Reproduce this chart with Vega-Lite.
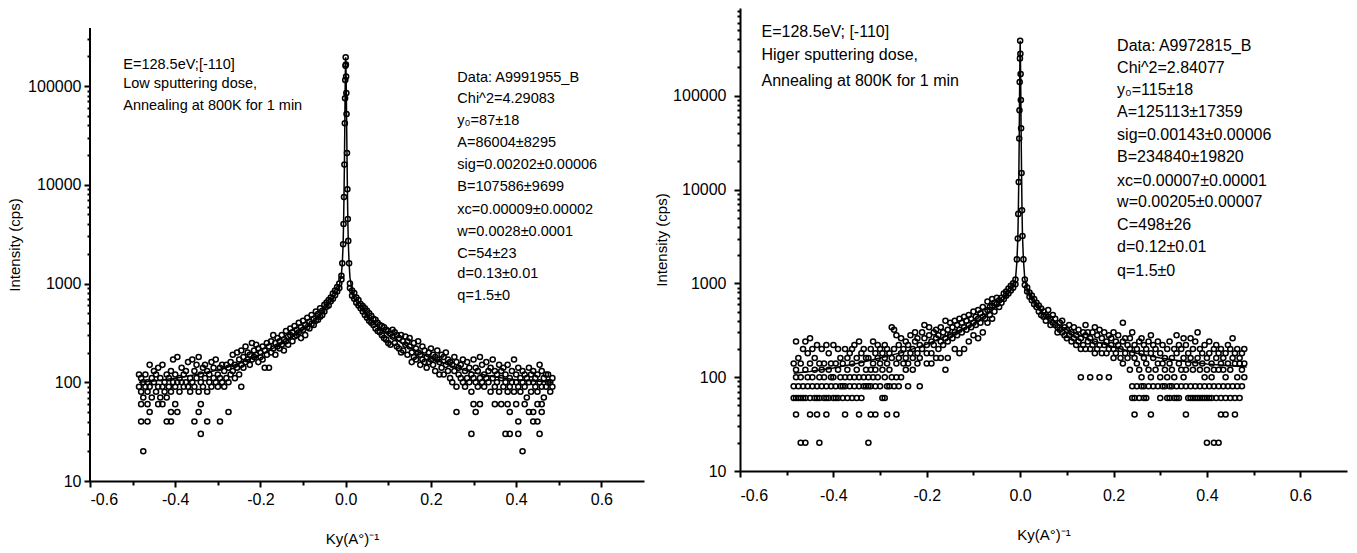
{
"$schema":"https://vega.github.io/schema/vega-lite/v6.json",
"padding":{"left":7,"top":8,"right":5,"bottom":3},
"spacing":10,
"config":{"view":{"stroke":null},"font":"Liberation Sans","axis":{"domainColor":"#000","domainWidth":2,"tickColor":"#000","tickWidth":2,"labelColor":"#000","titleColor":"#000","labelFontSize":16,"titleFontSize":15,"titleFontWeight":"normal","grid":false,"labelFont":"Liberation Sans","titleFont":"Liberation Sans"}},
"datasets":{
"L":[
{"x":-0.485,"y":90},{"x":-0.485,"y":120},{"x":-0.48,"y":80},{"x":-0.48,"y":110},{"x":-0.48,"y":60},{"x":-0.48,"y":40},{"x":-0.475,"y":100},{"x":-0.475,"y":70},{"x":-0.475,"y":20},{"x":-0.47,"y":120},{"x":-0.47,"y":90},{"x":-0.465,"y":80},{"x":-0.465,"y":100},{"x":-0.465,"y":40},{"x":-0.465,"y":60},{"x":-0.46,"y":150},{"x":-0.46,"y":90},{"x":-0.46,"y":50},{"x":-0.455,"y":70},{"x":-0.455,"y":110},{"x":-0.45,"y":100},{"x":-0.45,"y":130},{"x":-0.445,"y":80},{"x":-0.445,"y":120},{"x":-0.44,"y":90},{"x":-0.44,"y":140},{"x":-0.44,"y":60},{"x":-0.435,"y":110},{"x":-0.435,"y":70},{"x":-0.43,"y":150},{"x":-0.43,"y":90},{"x":-0.43,"y":60},{"x":-0.425,"y":100},{"x":-0.425,"y":80},{"x":-0.42,"y":120},{"x":-0.42,"y":70},{"x":-0.42,"y":40},{"x":-0.415,"y":90},{"x":-0.415,"y":110},{"x":-0.41,"y":80},{"x":-0.41,"y":130},{"x":-0.41,"y":40},{"x":-0.41,"y":50},{"x":-0.405,"y":100},{"x":-0.405,"y":170},{"x":-0.4,"y":120},{"x":-0.4,"y":90},{"x":-0.4,"y":60},{"x":-0.395,"y":180},{"x":-0.395,"y":100},{"x":-0.395,"y":50},{"x":-0.39,"y":110},{"x":-0.39,"y":80},{"x":-0.385,"y":140},{"x":-0.385,"y":100},{"x":-0.38,"y":120},{"x":-0.38,"y":90},{"x":-0.375,"y":100},{"x":-0.375,"y":130},{"x":-0.37,"y":160},{"x":-0.37,"y":90},{"x":-0.365,"y":110},{"x":-0.365,"y":80},{"x":-0.36,"y":170},{"x":-0.36,"y":100},{"x":-0.355,"y":130},{"x":-0.355,"y":90},{"x":-0.355,"y":40},{"x":-0.35,"y":110},{"x":-0.35,"y":150},{"x":-0.345,"y":180},{"x":-0.345,"y":80},{"x":-0.345,"y":50},{"x":-0.34,"y":120},{"x":-0.34,"y":100},{"x":-0.34,"y":30},{"x":-0.34,"y":60},{"x":-0.335,"y":90},{"x":-0.335,"y":140},{"x":-0.33,"y":110},{"x":-0.33,"y":150},{"x":-0.325,"y":130},{"x":-0.325,"y":80},{"x":-0.325,"y":40},{"x":-0.32,"y":100},{"x":-0.32,"y":120},{"x":-0.315,"y":160},{"x":-0.315,"y":90},{"x":-0.31,"y":110},{"x":-0.31,"y":140},{"x":-0.305,"y":170},{"x":-0.305,"y":100},{"x":-0.3,"y":120},{"x":-0.3,"y":90},{"x":-0.295,"y":140},{"x":-0.295,"y":110},{"x":-0.295,"y":40},{"x":-0.29,"y":150},{"x":-0.29,"y":100},{"x":-0.285,"y":130},{"x":-0.285,"y":90},{"x":-0.28,"y":110},{"x":-0.28,"y":150},{"x":-0.275,"y":140},{"x":-0.275,"y":100},{"x":-0.275,"y":50},{"x":-0.27,"y":120},{"x":-0.27,"y":160},{"x":-0.265,"y":190},{"x":-0.265,"y":130},{"x":-0.26,"y":150},{"x":-0.26,"y":110},{"x":-0.255,"y":200},{"x":-0.255,"y":140},{"x":-0.25,"y":170},{"x":-0.25,"y":120},{"x":-0.245,"y":210},{"x":-0.245,"y":150},{"x":-0.245,"y":90},{"x":-0.24,"y":180},{"x":-0.24,"y":140},{"x":-0.235,"y":230},{"x":-0.235,"y":160},{"x":-0.23,"y":170},{"x":-0.23,"y":200},{"x":-0.225,"y":190},{"x":-0.225,"y":150},{"x":-0.22,"y":250},{"x":-0.22,"y":170},{"x":-0.215,"y":210},{"x":-0.215,"y":180},{"x":-0.21,"y":190},{"x":-0.21,"y":240},{"x":-0.205,"y":160},{"x":-0.205,"y":220},{"x":-0.2,"y":200},{"x":-0.2,"y":180},{"x":-0.195,"y":230},{"x":-0.195,"y":170},{"x":-0.19,"y":210},{"x":-0.19,"y":140},{"x":-0.185,"y":190},{"x":-0.185,"y":250},{"x":-0.18,"y":230},{"x":-0.18,"y":140},{"x":-0.175,"y":260},{"x":-0.175,"y":200},{"x":-0.17,"y":220},{"x":-0.17,"y":300},{"x":-0.165,"y":250},{"x":-0.165,"y":190},{"x":-0.16,"y":280},{"x":-0.16,"y":230},{"x":-0.155,"y":260},{"x":-0.155,"y":220},{"x":-0.15,"y":300},{"x":-0.15,"y":240},{"x":-0.145,"y":270},{"x":-0.145,"y":210},{"x":-0.14,"y":330},{"x":-0.14,"y":260},{"x":-0.135,"y":290},{"x":-0.135,"y":240},{"x":-0.13,"y":350},{"x":-0.13,"y":300},{"x":-0.125,"y":320},{"x":-0.125,"y":260},{"x":-0.12,"y":370},{"x":-0.12,"y":290},{"x":-0.115,"y":340},{"x":-0.115,"y":300},{"x":-0.11,"y":400},{"x":-0.11,"y":320},{"x":-0.105,"y":360},{"x":-0.105,"y":280},{"x":-0.1,"y":420},{"x":-0.1,"y":340},{"x":-0.095,"y":380},{"x":-0.095,"y":300},{"x":-0.09,"y":450},{"x":-0.09,"y":360},{"x":-0.085,"y":410},{"x":-0.085,"y":350},{"x":-0.08,"y":480},{"x":-0.08,"y":390},{"x":-0.075,"y":440},{"x":-0.075,"y":380},{"x":-0.07,"y":520},{"x":-0.07,"y":420},{"x":-0.065,"y":490},{"x":-0.065,"y":430},{"x":-0.06,"y":560},{"x":-0.06,"y":460},{"x":-0.055,"y":530},{"x":-0.055,"y":480},{"x":-0.05,"y":610},{"x":-0.05,"y":520},{"x":-0.045,"y":580},{"x":-0.045,"y":640},{"x":-0.04,"y":680},{"x":-0.04,"y":600},{"x":-0.035,"y":720},{"x":-0.035,"y":660},{"x":-0.03,"y":790},{"x":-0.03,"y":700},{"x":-0.025,"y":850},{"x":-0.025,"y":760},{"x":-0.02,"y":920},{"x":-0.02,"y":830},{"x":-0.015,"y":1000},{"x":-0.015,"y":900},{"x":-0.01,"y":1200},{"x":-0.01,"y":1100},
{"x":-0.008,"y":1600},{"x":-0.006,"y":2500},{"x":-0.005,"y":4000},{"x":-0.004,"y":7500},{"x":-0.003,"y":16000},{"x":-0.002,"y":42000},{"x":-0.0015,"y":75000},{"x":-0.001,"y":115000},{"x":-0.0005,"y":160000},{"x":0,"y":195000},{"x":0.0005,"y":165000},{"x":0.001,"y":125000},{"x":0.0015,"y":85000},{"x":0.002,"y":52000},{"x":0.003,"y":21000},{"x":0.004,"y":9000},{"x":0.005,"y":4500},{"x":0.006,"y":2700},{"x":0.008,"y":1600},
{"x":0.01,"y":1000},{"x":0.01,"y":900},{"x":0.015,"y":850},{"x":0.015,"y":750},{"x":0.02,"y":700},{"x":0.02,"y":800},{"x":0.025,"y":640},{"x":0.025,"y":720},{"x":0.03,"y":600},{"x":0.03,"y":680},{"x":0.035,"y":560},{"x":0.035,"y":620},{"x":0.04,"y":520},{"x":0.04,"y":590},{"x":0.045,"y":480},{"x":0.045,"y":560},{"x":0.05,"y":450},{"x":0.05,"y":530},{"x":0.055,"y":420},{"x":0.055,"y":500},{"x":0.06,"y":400},{"x":0.06,"y":470},{"x":0.065,"y":380},{"x":0.065,"y":440},{"x":0.07,"y":350},{"x":0.07,"y":430},{"x":0.075,"y":330},{"x":0.075,"y":400},{"x":0.08,"y":320},{"x":0.08,"y":380},{"x":0.085,"y":300},{"x":0.085,"y":370},{"x":0.09,"y":280},{"x":0.09,"y":360},{"x":0.095,"y":270},{"x":0.095,"y":340},{"x":0.1,"y":330},{"x":0.1,"y":250},{"x":0.105,"y":310},{"x":0.105,"y":240},{"x":0.11,"y":290},{"x":0.11,"y":340},{"x":0.115,"y":250},{"x":0.115,"y":320},{"x":0.12,"y":230},{"x":0.12,"y":300},{"x":0.125,"y":280},{"x":0.125,"y":220},{"x":0.13,"y":200},{"x":0.13,"y":300},{"x":0.135,"y":260},{"x":0.135,"y":210},{"x":0.14,"y":240},{"x":0.14,"y":290},{"x":0.145,"y":190},{"x":0.145,"y":260},{"x":0.15,"y":230},{"x":0.15,"y":280},{"x":0.155,"y":200},{"x":0.155,"y":160},{"x":0.16,"y":250},{"x":0.16,"y":180},{"x":0.165,"y":220},{"x":0.165,"y":170},{"x":0.17,"y":200},{"x":0.17,"y":260},{"x":0.175,"y":190},{"x":0.175,"y":150},{"x":0.18,"y":230},{"x":0.18,"y":170},{"x":0.185,"y":160},{"x":0.185,"y":210},{"x":0.19,"y":180},{"x":0.19,"y":140},{"x":0.195,"y":200},{"x":0.195,"y":160},{"x":0.2,"y":170},{"x":0.2,"y":220},{"x":0.205,"y":150},{"x":0.205,"y":190},{"x":0.21,"y":130},{"x":0.21,"y":180},{"x":0.215,"y":170},{"x":0.215,"y":210},{"x":0.22,"y":160},{"x":0.22,"y":120},{"x":0.225,"y":140},{"x":0.225,"y":190},{"x":0.23,"y":180},{"x":0.23,"y":120},{"x":0.235,"y":150},{"x":0.235,"y":200},{"x":0.24,"y":130},{"x":0.24,"y":170},{"x":0.245,"y":110},{"x":0.245,"y":160},{"x":0.25,"y":150},{"x":0.25,"y":100},{"x":0.255,"y":130},{"x":0.255,"y":180},{"x":0.26,"y":90},{"x":0.26,"y":160},{"x":0.26,"y":50},{"x":0.265,"y":120},{"x":0.265,"y":140},{"x":0.27,"y":150},{"x":0.27,"y":110},{"x":0.275,"y":100},{"x":0.275,"y":170},{"x":0.28,"y":130},{"x":0.28,"y":90},{"x":0.285,"y":110},{"x":0.285,"y":160},{"x":0.29,"y":140},{"x":0.29,"y":100},{"x":0.295,"y":80},{"x":0.295,"y":120},{"x":0.295,"y":30},{"x":0.3,"y":170},{"x":0.3,"y":110},{"x":0.3,"y":60},{"x":0.305,"y":100},{"x":0.305,"y":140},{"x":0.305,"y":50},{"x":0.31,"y":130},{"x":0.31,"y":90},{"x":0.315,"y":110},{"x":0.315,"y":180},{"x":0.315,"y":60},{"x":0.32,"y":150},{"x":0.32,"y":100},{"x":0.325,"y":120},{"x":0.325,"y":90},{"x":0.33,"y":160},{"x":0.33,"y":110},{"x":0.335,"y":100},{"x":0.335,"y":130},{"x":0.34,"y":140},{"x":0.34,"y":80},{"x":0.345,"y":110},{"x":0.345,"y":170},{"x":0.35,"y":90},{"x":0.35,"y":130},{"x":0.35,"y":60},{"x":0.355,"y":120},{"x":0.355,"y":100},{"x":0.36,"y":150},{"x":0.36,"y":80},{"x":0.365,"y":110},{"x":0.365,"y":130},{"x":0.365,"y":60},{"x":0.37,"y":90},{"x":0.37,"y":140},{"x":0.375,"y":120},{"x":0.375,"y":100},{"x":0.375,"y":30},{"x":0.38,"y":80},{"x":0.38,"y":150},{"x":0.38,"y":60},{"x":0.385,"y":110},{"x":0.385,"y":90},{"x":0.385,"y":50},{"x":0.385,"y":30},{"x":0.39,"y":130},{"x":0.39,"y":100},{"x":0.395,"y":170},{"x":0.395,"y":80},{"x":0.4,"y":100},{"x":0.4,"y":120},{"x":0.4,"y":60},{"x":0.405,"y":90},{"x":0.405,"y":140},{"x":0.405,"y":30},{"x":0.405,"y":40},{"x":0.41,"y":110},{"x":0.41,"y":80},{"x":0.415,"y":130},{"x":0.415,"y":100},{"x":0.415,"y":20},{"x":0.42,"y":90},{"x":0.42,"y":120},{"x":0.42,"y":60},{"x":0.425,"y":110},{"x":0.425,"y":70},{"x":0.43,"y":140},{"x":0.43,"y":100},{"x":0.43,"y":50},{"x":0.435,"y":80},{"x":0.435,"y":120},{"x":0.44,"y":100},{"x":0.44,"y":130},{"x":0.44,"y":50},{"x":0.44,"y":40},{"x":0.445,"y":90},{"x":0.445,"y":110},{"x":0.45,"y":120},{"x":0.45,"y":80},{"x":0.45,"y":60},{"x":0.45,"y":40},{"x":0.455,"y":100},{"x":0.455,"y":150},{"x":0.455,"y":30},{"x":0.46,"y":130},{"x":0.46,"y":90},{"x":0.46,"y":50},{"x":0.46,"y":60},{"x":0.465,"y":110},{"x":0.465,"y":70},{"x":0.47,"y":90},{"x":0.47,"y":120},{"x":0.475,"y":120},{"x":0.475,"y":100},{"x":0.48,"y":100},{"x":0.48,"y":80},{"x":0.485,"y":110},{"x":0.485,"y":90}
],
"R":[
{"x":-0.485,"y":80},{"x":-0.485,"y":140},{"x":-0.485,"y":60},{"x":-0.48,"y":100},{"x":-0.48,"y":240},{"x":-0.48,"y":60},{"x":-0.48,"y":120},{"x":-0.48,"y":40},{"x":-0.475,"y":80},{"x":-0.475,"y":160},{"x":-0.475,"y":60},{"x":-0.47,"y":140},{"x":-0.47,"y":100},{"x":-0.47,"y":60},{"x":-0.47,"y":20},{"x":-0.465,"y":80},{"x":-0.465,"y":200},{"x":-0.465,"y":60},{"x":-0.46,"y":120},{"x":-0.46,"y":240},{"x":-0.46,"y":60},{"x":-0.46,"y":20},{"x":-0.455,"y":100},{"x":-0.455,"y":180},{"x":-0.455,"y":80},{"x":-0.45,"y":140},{"x":-0.45,"y":260},{"x":-0.45,"y":60},{"x":-0.45,"y":40},{"x":-0.445,"y":80},{"x":-0.445,"y":200},{"x":-0.445,"y":100},{"x":-0.44,"y":120},{"x":-0.44,"y":160},{"x":-0.44,"y":60},{"x":-0.435,"y":80},{"x":-0.435,"y":220},{"x":-0.435,"y":60},{"x":-0.435,"y":40},{"x":-0.43,"y":100},{"x":-0.43,"y":140},{"x":-0.43,"y":60},{"x":-0.43,"y":20},{"x":-0.425,"y":80},{"x":-0.425,"y":200},{"x":-0.425,"y":120},{"x":-0.42,"y":140},{"x":-0.42,"y":60},{"x":-0.42,"y":100},{"x":-0.415,"y":80},{"x":-0.415,"y":220},{"x":-0.415,"y":60},{"x":-0.415,"y":40},{"x":-0.41,"y":120},{"x":-0.41,"y":180},{"x":-0.41,"y":60},{"x":-0.405,"y":80},{"x":-0.405,"y":140},{"x":-0.405,"y":100},{"x":-0.4,"y":100},{"x":-0.4,"y":220},{"x":-0.4,"y":60},{"x":-0.395,"y":140},{"x":-0.395,"y":80},{"x":-0.395,"y":60},{"x":-0.39,"y":120},{"x":-0.39,"y":200},{"x":-0.39,"y":60},{"x":-0.385,"y":80},{"x":-0.385,"y":160},{"x":-0.385,"y":100},{"x":-0.38,"y":140},{"x":-0.38,"y":80},{"x":-0.38,"y":60},{"x":-0.375,"y":100},{"x":-0.375,"y":200},{"x":-0.375,"y":80},{"x":-0.375,"y":40},{"x":-0.37,"y":120},{"x":-0.37,"y":160},{"x":-0.37,"y":60},{"x":-0.365,"y":80},{"x":-0.365,"y":180},{"x":-0.365,"y":100},{"x":-0.36,"y":140},{"x":-0.36,"y":200},{"x":-0.36,"y":60},{"x":-0.355,"y":100},{"x":-0.355,"y":220},{"x":-0.355,"y":80},{"x":-0.35,"y":120},{"x":-0.35,"y":160},{"x":-0.35,"y":60},{"x":-0.345,"y":80},{"x":-0.345,"y":240},{"x":-0.345,"y":100},{"x":-0.345,"y":40},{"x":-0.34,"y":140},{"x":-0.34,"y":180},{"x":-0.34,"y":60},{"x":-0.335,"y":100},{"x":-0.335,"y":200},{"x":-0.335,"y":80},{"x":-0.33,"y":120},{"x":-0.33,"y":160},{"x":-0.33,"y":80},{"x":-0.325,"y":160},{"x":-0.325,"y":100},{"x":-0.325,"y":80},{"x":-0.325,"y":20},{"x":-0.32,"y":200},{"x":-0.32,"y":120},{"x":-0.32,"y":80},{"x":-0.32,"y":40},{"x":-0.315,"y":140},{"x":-0.315,"y":240},{"x":-0.315,"y":100},{"x":-0.31,"y":180},{"x":-0.31,"y":120},{"x":-0.31,"y":80},{"x":-0.31,"y":40},{"x":-0.305,"y":160},{"x":-0.305,"y":220},{"x":-0.305,"y":100},{"x":-0.3,"y":140},{"x":-0.3,"y":200},{"x":-0.3,"y":80},{"x":-0.295,"y":120},{"x":-0.295,"y":180},{"x":-0.295,"y":60},{"x":-0.29,"y":160},{"x":-0.29,"y":220},{"x":-0.29,"y":100},{"x":-0.29,"y":60},{"x":-0.285,"y":140},{"x":-0.285,"y":200},{"x":-0.285,"y":80},{"x":-0.285,"y":40},{"x":-0.28,"y":180},{"x":-0.28,"y":120},{"x":-0.28,"y":80},{"x":-0.275,"y":160},{"x":-0.275,"y":340},{"x":-0.275,"y":100},{"x":-0.27,"y":200},{"x":-0.27,"y":320},{"x":-0.27,"y":80},{"x":-0.265,"y":140},{"x":-0.265,"y":280},{"x":-0.265,"y":100},{"x":-0.265,"y":40},{"x":-0.26,"y":220},{"x":-0.26,"y":160},{"x":-0.26,"y":80},{"x":-0.255,"y":180},{"x":-0.255,"y":260},{"x":-0.255,"y":100},{"x":-0.25,"y":200},{"x":-0.25,"y":140},{"x":-0.245,"y":160},{"x":-0.245,"y":240},{"x":-0.245,"y":120},{"x":-0.24,"y":220},{"x":-0.24,"y":140},{"x":-0.24,"y":80},{"x":-0.235,"y":180},{"x":-0.235,"y":280},{"x":-0.23,"y":200},{"x":-0.23,"y":160},{"x":-0.23,"y":120},{"x":-0.225,"y":240},{"x":-0.225,"y":300},{"x":-0.22,"y":180},{"x":-0.22,"y":260},{"x":-0.22,"y":140},{"x":-0.215,"y":220},{"x":-0.215,"y":160},{"x":-0.215,"y":80},{"x":-0.21,"y":300},{"x":-0.21,"y":200},{"x":-0.205,"y":260},{"x":-0.205,"y":360},{"x":-0.2,"y":220},{"x":-0.2,"y":180},{"x":-0.2,"y":140},{"x":-0.195,"y":280},{"x":-0.195,"y":340},{"x":-0.19,"y":240},{"x":-0.19,"y":180},{"x":-0.19,"y":140},{"x":-0.185,"y":300},{"x":-0.185,"y":220},{"x":-0.18,"y":260},{"x":-0.18,"y":320},{"x":-0.18,"y":160},{"x":-0.175,"y":200},{"x":-0.175,"y":280},{"x":-0.17,"y":240},{"x":-0.17,"y":340},{"x":-0.17,"y":160},{"x":-0.165,"y":300},{"x":-0.165,"y":220},{"x":-0.16,"y":260},{"x":-0.16,"y":400},{"x":-0.16,"y":120},{"x":-0.155,"y":320},{"x":-0.155,"y":240},{"x":-0.155,"y":160},{"x":-0.15,"y":280},{"x":-0.15,"y":380},{"x":-0.145,"y":340},{"x":-0.145,"y":260},{"x":-0.14,"y":300},{"x":-0.14,"y":400},{"x":-0.14,"y":200},{"x":-0.135,"y":360},{"x":-0.135,"y":280},{"x":-0.13,"y":320},{"x":-0.13,"y":420},{"x":-0.13,"y":180},{"x":-0.125,"y":380},{"x":-0.125,"y":300},{"x":-0.12,"y":340},{"x":-0.12,"y":440},{"x":-0.12,"y":200},{"x":-0.115,"y":400},{"x":-0.115,"y":320},{"x":-0.11,"y":360},{"x":-0.11,"y":460},{"x":-0.11,"y":240},{"x":-0.105,"y":420},{"x":-0.105,"y":340},{"x":-0.1,"y":380},{"x":-0.1,"y":500},{"x":-0.1,"y":280},{"x":-0.095,"y":440},{"x":-0.095,"y":360},{"x":-0.09,"y":420},{"x":-0.09,"y":520},{"x":-0.09,"y":260},{"x":-0.085,"y":480},{"x":-0.085,"y":380},{"x":-0.08,"y":440},{"x":-0.08,"y":560},{"x":-0.08,"y":300},{"x":-0.075,"y":500},{"x":-0.075,"y":420},{"x":-0.07,"y":520},{"x":-0.07,"y":640},{"x":-0.07,"y":380},{"x":-0.065,"y":560},{"x":-0.065,"y":460},{"x":-0.06,"y":580},{"x":-0.06,"y":680},{"x":-0.06,"y":420},{"x":-0.055,"y":620},{"x":-0.055,"y":500},{"x":-0.05,"y":600},{"x":-0.05,"y":700},{"x":-0.045,"y":660},{"x":-0.045,"y":560},{"x":-0.04,"y":700},{"x":-0.04,"y":620},{"x":-0.035,"y":780},{"x":-0.035,"y":680},{"x":-0.03,"y":820},{"x":-0.03,"y":740},{"x":-0.025,"y":880},{"x":-0.025,"y":780},{"x":-0.02,"y":940},{"x":-0.02,"y":840},{"x":-0.015,"y":1000},{"x":-0.015,"y":900},{"x":-0.01,"y":1100},{"x":-0.01,"y":980},
{"x":-0.007,"y":1800},{"x":-0.005,"y":3000},{"x":-0.004,"y":5500},{"x":-0.003,"y":12000},{"x":-0.002,"y":35000},{"x":-0.0015,"y":70000},{"x":-0.001,"y":140000},{"x":-0.0005,"y":250000},{"x":0,"y":385000},{"x":0.0005,"y":280000},{"x":0.001,"y":170000},{"x":0.0015,"y":90000},{"x":0.002,"y":45000},{"x":0.003,"y":15000},{"x":0.004,"y":6000},{"x":0.005,"y":3200},{"x":0.007,"y":1800},
{"x":0.01,"y":1100},{"x":0.01,"y":960},{"x":0.015,"y":900},{"x":0.015,"y":820},{"x":0.02,"y":800},{"x":0.02,"y":720},{"x":0.025,"y":740},{"x":0.025,"y":660},{"x":0.03,"y":680},{"x":0.03,"y":600},{"x":0.035,"y":620},{"x":0.035,"y":560},{"x":0.04,"y":580},{"x":0.04,"y":500},{"x":0.045,"y":540},{"x":0.045,"y":460},{"x":0.05,"y":500},{"x":0.05,"y":440},{"x":0.055,"y":460},{"x":0.055,"y":400},{"x":0.06,"y":440},{"x":0.06,"y":520},{"x":0.065,"y":420},{"x":0.065,"y":360},{"x":0.07,"y":380},{"x":0.07,"y":460},{"x":0.075,"y":360},{"x":0.075,"y":420},{"x":0.08,"y":340},{"x":0.08,"y":300},{"x":0.085,"y":380},{"x":0.085,"y":320},{"x":0.09,"y":300},{"x":0.09,"y":400},{"x":0.095,"y":340},{"x":0.095,"y":280},{"x":0.1,"y":320},{"x":0.1,"y":260},{"x":0.105,"y":360},{"x":0.105,"y":280},{"x":0.11,"y":300},{"x":0.11,"y":240},{"x":0.115,"y":340},{"x":0.115,"y":260},{"x":0.12,"y":280},{"x":0.12,"y":220},{"x":0.125,"y":320},{"x":0.125,"y":240},{"x":0.13,"y":260},{"x":0.13,"y":200},{"x":0.13,"y":100},{"x":0.135,"y":300},{"x":0.135,"y":220},{"x":0.14,"y":280},{"x":0.14,"y":360},{"x":0.14,"y":200},{"x":0.145,"y":240},{"x":0.145,"y":300},{"x":0.15,"y":260},{"x":0.15,"y":200},{"x":0.15,"y":100},{"x":0.155,"y":300},{"x":0.155,"y":220},{"x":0.16,"y":240},{"x":0.16,"y":340},{"x":0.16,"y":180},{"x":0.165,"y":280},{"x":0.165,"y":200},{"x":0.17,"y":220},{"x":0.17,"y":320},{"x":0.17,"y":100},{"x":0.175,"y":260},{"x":0.175,"y":180},{"x":0.18,"y":300},{"x":0.18,"y":220},{"x":0.185,"y":240},{"x":0.185,"y":180},{"x":0.19,"y":280},{"x":0.19,"y":200},{"x":0.19,"y":100},{"x":0.195,"y":220},{"x":0.195,"y":260},{"x":0.2,"y":200},{"x":0.2,"y":300},{"x":0.2,"y":160},{"x":0.205,"y":240},{"x":0.205,"y":180},{"x":0.21,"y":280},{"x":0.21,"y":220},{"x":0.215,"y":200},{"x":0.215,"y":160},{"x":0.22,"y":240},{"x":0.22,"y":380},{"x":0.22,"y":140},{"x":0.225,"y":180},{"x":0.225,"y":260},{"x":0.23,"y":220},{"x":0.23,"y":160},{"x":0.235,"y":260},{"x":0.235,"y":200},{"x":0.235,"y":120},{"x":0.24,"y":180},{"x":0.24,"y":300},{"x":0.24,"y":80},{"x":0.24,"y":60},{"x":0.245,"y":220},{"x":0.245,"y":160},{"x":0.245,"y":60},{"x":0.245,"y":40},{"x":0.25,"y":200},{"x":0.25,"y":140},{"x":0.25,"y":80},{"x":0.255,"y":240},{"x":0.255,"y":120},{"x":0.255,"y":60},{"x":0.26,"y":180},{"x":0.26,"y":260},{"x":0.26,"y":100},{"x":0.26,"y":80},{"x":0.265,"y":160},{"x":0.265,"y":220},{"x":0.265,"y":80},{"x":0.265,"y":60},{"x":0.27,"y":200},{"x":0.27,"y":140},{"x":0.27,"y":60},{"x":0.275,"y":240},{"x":0.275,"y":120},{"x":0.275,"y":80},{"x":0.28,"y":180},{"x":0.28,"y":280},{"x":0.28,"y":100},{"x":0.28,"y":40},{"x":0.285,"y":160},{"x":0.285,"y":220},{"x":0.285,"y":80},{"x":0.29,"y":200},{"x":0.29,"y":120},{"x":0.295,"y":140},{"x":0.295,"y":240},{"x":0.295,"y":80},{"x":0.3,"y":180},{"x":0.3,"y":100},{"x":0.3,"y":60},{"x":0.305,"y":220},{"x":0.305,"y":140},{"x":0.305,"y":80},{"x":0.31,"y":160},{"x":0.31,"y":120},{"x":0.31,"y":80},{"x":0.315,"y":200},{"x":0.315,"y":100},{"x":0.315,"y":60},{"x":0.32,"y":240},{"x":0.32,"y":140},{"x":0.32,"y":80},{"x":0.32,"y":60},{"x":0.325,"y":160},{"x":0.325,"y":120},{"x":0.325,"y":80},{"x":0.33,"y":200},{"x":0.33,"y":100},{"x":0.33,"y":60},{"x":0.335,"y":180},{"x":0.335,"y":280},{"x":0.335,"y":80},{"x":0.335,"y":60},{"x":0.34,"y":140},{"x":0.34,"y":220},{"x":0.34,"y":60},{"x":0.345,"y":200},{"x":0.345,"y":120},{"x":0.345,"y":80},{"x":0.35,"y":160},{"x":0.35,"y":260},{"x":0.35,"y":100},{"x":0.355,"y":220},{"x":0.355,"y":120},{"x":0.355,"y":80},{"x":0.355,"y":40},{"x":0.36,"y":180},{"x":0.36,"y":140},{"x":0.36,"y":60},{"x":0.365,"y":160},{"x":0.365,"y":260},{"x":0.365,"y":80},{"x":0.365,"y":60},{"x":0.37,"y":200},{"x":0.37,"y":120},{"x":0.37,"y":60},{"x":0.375,"y":240},{"x":0.375,"y":140},{"x":0.375,"y":80},{"x":0.375,"y":60},{"x":0.38,"y":160},{"x":0.38,"y":300},{"x":0.38,"y":60},{"x":0.385,"y":200},{"x":0.385,"y":120},{"x":0.385,"y":80},{"x":0.385,"y":60},{"x":0.39,"y":140},{"x":0.39,"y":180},{"x":0.39,"y":60},{"x":0.395,"y":220},{"x":0.395,"y":100},{"x":0.395,"y":80},{"x":0.395,"y":60},{"x":0.4,"y":160},{"x":0.4,"y":120},{"x":0.4,"y":60},{"x":0.4,"y":20},{"x":0.405,"y":180},{"x":0.405,"y":240},{"x":0.405,"y":80},{"x":0.405,"y":60},{"x":0.41,"y":140},{"x":0.41,"y":100},{"x":0.41,"y":60},{"x":0.415,"y":200},{"x":0.415,"y":120},{"x":0.415,"y":80},{"x":0.415,"y":20},{"x":0.42,"y":160},{"x":0.42,"y":220},{"x":0.42,"y":60},{"x":0.425,"y":180},{"x":0.425,"y":120},{"x":0.425,"y":80},{"x":0.425,"y":20},{"x":0.43,"y":140},{"x":0.43,"y":200},{"x":0.43,"y":60},{"x":0.43,"y":40},{"x":0.435,"y":120},{"x":0.435,"y":160},{"x":0.435,"y":80},{"x":0.44,"y":180},{"x":0.44,"y":100},{"x":0.44,"y":60},{"x":0.44,"y":40},{"x":0.445,"y":140},{"x":0.445,"y":220},{"x":0.445,"y":80},{"x":0.45,"y":200},{"x":0.45,"y":120},{"x":0.45,"y":60},{"x":0.455,"y":160},{"x":0.455,"y":260},{"x":0.455,"y":80},{"x":0.46,"y":140},{"x":0.46,"y":180},{"x":0.46,"y":60},{"x":0.46,"y":40},{"x":0.465,"y":200},{"x":0.465,"y":100},{"x":0.465,"y":80},{"x":0.47,"y":160},{"x":0.47,"y":140},{"x":0.47,"y":60},{"x":0.475,"y":180},{"x":0.475,"y":120},{"x":0.475,"y":80},{"x":0.48,"y":140},{"x":0.48,"y":200},{"x":0.48,"y":100}
],
"LF":[{"x":-0.485,"y":100},{"x":-0.45,"y":103},{"x":-0.4,"y":110},{"x":-0.35,"y":120},{"x":-0.3,"y":133},{"x":-0.25,"y":155},{"x":-0.2,"y":190},{"x":-0.15,"y":245},{"x":-0.1,"y":340},{"x":-0.07,"y":430},{"x":-0.05,"y":540},{"x":-0.03,"y":700},{"x":-0.02,"y":830},{"x":-0.015,"y":950},{"x":-0.01,"y":1250},{"x":-0.008,"y":1600},{"x":-0.006,"y":2500},{"x":-0.005,"y":4000},{"x":-0.004,"y":7500},{"x":-0.003,"y":16000},{"x":-0.002,"y":42000},{"x":-0.0015,"y":75000},{"x":-0.001,"y":115000},{"x":-0.0005,"y":160000},{"x":0,"y":195000},{"x":0.0005,"y":165000},{"x":0.001,"y":125000},{"x":0.0015,"y":85000},{"x":0.002,"y":52000},{"x":0.003,"y":21000},{"x":0.004,"y":9000},{"x":0.005,"y":4500},{"x":0.006,"y":2700},{"x":0.008,"y":1600},{"x":0.01,"y":1150},{"x":0.015,"y":850},{"x":0.02,"y":720},{"x":0.03,"y":600},{"x":0.05,"y":460},{"x":0.07,"y":380},{"x":0.1,"y":300},{"x":0.15,"y":225},{"x":0.2,"y":175},{"x":0.25,"y":145},{"x":0.3,"y":125},{"x":0.35,"y":113},{"x":0.4,"y":106},{"x":0.485,"y":100}],
"RF":[{"x":-0.485,"y":110},{"x":-0.45,"y":115},{"x":-0.4,"y":125},{"x":-0.35,"y":140},{"x":-0.3,"y":160},{"x":-0.25,"y":185},{"x":-0.2,"y":225},{"x":-0.15,"y":285},{"x":-0.1,"y":370},{"x":-0.07,"y":470},{"x":-0.05,"y":570},{"x":-0.03,"y":720},{"x":-0.02,"y":850},{"x":-0.015,"y":950},{"x":-0.01,"y":1100},{"x":-0.007,"y":1700},{"x":-0.005,"y":3000},{"x":-0.004,"y":5500},{"x":-0.003,"y":12000},{"x":-0.002,"y":35000},{"x":-0.0015,"y":70000},{"x":-0.001,"y":140000},{"x":-0.0005,"y":250000},{"x":0,"y":385000},{"x":0.0005,"y":280000},{"x":0.001,"y":170000},{"x":0.0015,"y":90000},{"x":0.002,"y":45000},{"x":0.003,"y":15000},{"x":0.004,"y":6000},{"x":0.005,"y":3200},{"x":0.007,"y":1800},{"x":0.01,"y":1100},{"x":0.015,"y":870},{"x":0.02,"y":760},{"x":0.03,"y":640},{"x":0.05,"y":480},{"x":0.07,"y":400},{"x":0.1,"y":320},{"x":0.15,"y":250},{"x":0.2,"y":210},{"x":0.25,"y":180},{"x":0.3,"y":160},{"x":0.35,"y":148},{"x":0.4,"y":138},{"x":0.485,"y":128}],
"LT":[{"x":-0.522,"y":163000,"t":"E=128.5eV;[-110]"},{"x":-0.522,"y":104700,"t":"Low sputtering dose,"},{"x":-0.522,"y":62700,"t":"Annealing at 800K for 1 min"},{"x":0.262,"y":120600,"t":"Data: A9991955_B"},{"x":0.262,"y":73800,"t":"Chi^2=4.29083"},{"x":0.262,"y":44300,"t":"y₀=87±18"},{"x":0.262,"y":26500,"t":"A=86004±8295"},{"x":0.262,"y":15850,"t":"sig=0.00202±0.00006"},{"x":0.262,"y":9490,"t":"B=107586±9699"},{"x":0.262,"y":5540,"t":"xc=0.00009±0.00002"},{"x":0.262,"y":3320,"t":"w=0.0028±0.0001"},{"x":0.262,"y":1990,"t":"C=54±23"},{"x":0.262,"y":1250,"t":"d=0.13±0.01"},{"x":0.262,"y":747,"t":"q=1.5±0"}],
"RT":[{"x":-0.554,"y":477000,"t":"E=128.5eV; [-110]"},{"x":-0.554,"y":271500,"t":"Higer sputtering dose,"},{"x":-0.554,"y":143600,"t":"Annealing at 800K for 1 min"},{"x":0.2076,"y":339000,"t":"Data: A9972815_B"},{"x":0.2076,"y":197700,"t":"Chi^2=2.84077"},{"x":0.2076,"y":115100,"t":"y₀=115±18"},{"x":0.2076,"y":67000,"t":"A=125113±17359"},{"x":0.2076,"y":38100,"t":"sig=0.00143±0.00006"},{"x":0.2076,"y":22200,"t":"B=234840±19820"},{"x":0.2076,"y":12300,"t":"xc=0.00007±0.00001"},{"x":0.2076,"y":7340,"t":"w=0.00205±0.00007"},{"x":0.2076,"y":4180,"t":"C=498±26"},{"x":0.2076,"y":2430,"t":"d=0.12±0.01"},{"x":0.2076,"y":1350,"t":"q=1.5±0"}]
},
"hconcat":[
{"width":554,"height":473,
"resolve":{"axis":{"x":"independent","y":"independent"}},
"layer":[
{"data":{"name":"L"},"mark":{"type":"point","shape":"circle","filled":false,"stroke":"black","strokeWidth":1.5,"size":26,"opacity":1},
"encoding":{
"x":{"field":"x","type":"quantitative","scale":{"domain":[-0.6,0.7],"nice":false,"zero":false},"axis":{"values":[-0.6,-0.4,-0.2,0,0.2,0.4,0.6],"format":".1f","labelExpr":"replace(datum.label,'−','-')","tickSize":6,"labelPadding":4,"title":"Ky(A°)⁻¹","titlePadding":24,"titleX":262}},
"y":{"field":"y","type":"quantitative","scale":{"type":"log","domain":[10,616600],"nice":false},"axis":{"domain":false,"values":[10,100,1000,10000,100000],"format":"d","tickSize":6,"labelPadding":3,"title":"Intensity (cps)","titlePadding":5}}}},
{"data":{"name":"LF"},"mark":{"type":"line","stroke":"black","strokeWidth":1.5},
"encoding":{
"x":{"field":"x","type":"quantitative","scale":{"domain":[-0.6,0.7],"nice":false,"zero":false},"axis":{"orient":"bottom","values":[-0.5,-0.3,-0.1,0.1,0.3,0.5],"labels":false,"domain":false,"title":null,"tickSize":4}},
"y":{"field":"y","type":"quantitative","scale":{"type":"log","domain":[10,616600],"nice":false},"axis":{"orient":"left","values":[20,30,40,50,60,70,80,90,200,300,400,500,600,700,800,900,2000,3000,4000,5000,6000,7000,8000,9000,20000,30000,40000,50000,60000,70000,80000,90000,200000,300000],"labels":false,"domain":false,"title":null,"tickSize":3}}}},
{"data":{"values":[{}]},"mark":{"type":"rule","stroke":"black","strokeWidth":2},
"encoding":{"x":{"datum":-0.6,"type":"quantitative","axis":null},"y":{"datum":10,"type":"quantitative","axis":null},"y2":{"datum":386000}}},
{"data":{"name":"LT"},"mark":{"type":"text","align":"left","baseline":"middle","fontSize":14.5,"font":"Liberation Sans","color":"black"},
"encoding":{"x":{"field":"x","type":"quantitative","axis":null},"y":{"field":"y","type":"quantitative","axis":null},"text":{"field":"t"}}}
]},
{"width":607,"height":463,
"resolve":{"axis":{"x":"independent","y":"independent"}},
"layer":[
{"data":{"name":"R"},"mark":{"type":"point","shape":"circle","filled":false,"stroke":"black","strokeWidth":1.5,"size":26,"opacity":1},
"encoding":{
"x":{"field":"x","type":"quantitative","scale":{"domain":[-0.6,0.7],"nice":false,"zero":false},"axis":{"values":[-0.6,-0.4,-0.2,0,0.2,0.4,0.6],"format":".1f","labelExpr":"replace(datum.label,'−','-')","tickSize":6,"labelPadding":10,"title":"Ky(A°)⁻¹","titlePadding":24}},
"y":{"field":"y","type":"quantitative","scale":{"type":"log","domain":[10,861000],"nice":false},"axis":{"values":[10,100,1000,10000,100000],"format":"d","tickSize":6,"labelPadding":8,"title":"Intensity (cps)","titlePadding":3}}}},
{"data":{"name":"RF"},"mark":{"type":"line","stroke":"black","strokeWidth":1.5},
"encoding":{
"x":{"field":"x","type":"quantitative","scale":{"domain":[-0.6,0.7],"nice":false,"zero":false},"axis":{"orient":"bottom","values":[-0.5,-0.3,-0.1,0.1,0.3,0.5],"labels":false,"domain":false,"title":null,"tickSize":4}},
"y":{"field":"y","type":"quantitative","scale":{"type":"log","domain":[10,861000],"nice":false},"axis":{"orient":"left","values":[20,30,40,50,60,70,80,90,200,300,400,500,600,700,800,900,2000,3000,4000,5000,6000,7000,8000,9000,20000,30000,40000,50000,60000,70000,80000,90000,200000,300000,400000,500000,600000,700000,800000],"labels":false,"domain":false,"title":null,"tickSize":3}}}},
{"data":{"name":"RT"},"mark":{"type":"text","align":"left","baseline":"middle","fontSize":16,"font":"Liberation Sans","color":"black"},
"encoding":{"x":{"field":"x","type":"quantitative","axis":null},"y":{"field":"y","type":"quantitative","axis":null},"text":{"field":"t"}}}
]}
]
}
